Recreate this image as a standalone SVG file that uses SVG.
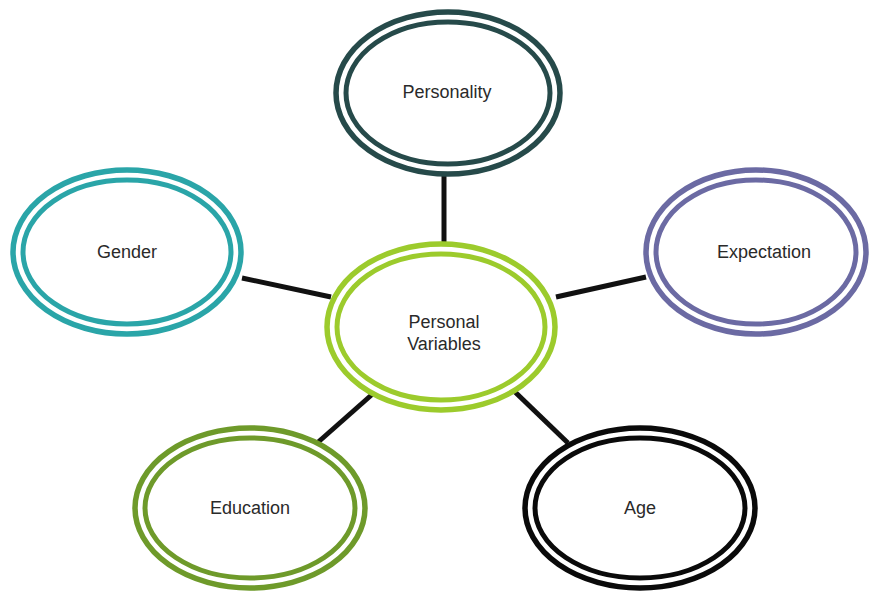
<svg xmlns="http://www.w3.org/2000/svg" width="870" height="592" viewBox="0 0 870 592">
<style>
.o{fill:#fff;stroke-width:5.5}
.i{fill:none;stroke-width:5}
text{font-family:"Liberation Sans",Arial,sans-serif;font-size:18px;fill:#2a2a2a;text-anchor:middle;stroke:none}
.c{stroke:#111;stroke-width:5;fill:none}
</style>
<rect width="870" height="592" fill="#fff"/>
<g id="connectors">
<line class="c" x1="444" y1="176" x2="444" y2="244"/>
<line class="c" x1="242" y1="278" x2="331" y2="297"/>
<line class="c" x1="556" y1="297" x2="646" y2="277"/>
<line class="c" x1="316" y1="444" x2="376" y2="391"/>
<line class="c" x1="568" y1="443" x2="514" y2="391"/>
</g>
<g id="personality" stroke="#264a4a">
<ellipse class="o" cx="448" cy="93" rx="112" ry="81"/>
<ellipse class="i" cx="448" cy="93" rx="102" ry="71"/>
<text x="447" y="98">Personality</text>
</g>
<g id="gender" stroke="#2aa5a8">
<ellipse class="o" cx="127" cy="252" rx="114" ry="82"/>
<ellipse class="i" cx="127" cy="252" rx="104" ry="72"/>
<text x="127" y="258">Gender</text>
</g>
<g id="expectation" stroke="#6b6aa3">
<ellipse class="o" cx="756" cy="252" rx="110" ry="82"/>
<ellipse class="i" cx="756" cy="252" rx="100" ry="72"/>
<text x="764" y="258">Expectation</text>
</g>
<g id="personal-variables" stroke="#9ccb2c">
<ellipse class="o" cx="441" cy="327" rx="114" ry="83"/>
<ellipse class="i" cx="441" cy="327" rx="104" ry="73"/>
<text x="444" y="328">Personal</text>
<text x="444" y="350">Variables</text>
</g>
<g id="education" stroke="#6e9a2a">
<ellipse class="o" cx="250" cy="508" rx="115" ry="80"/>
<ellipse class="i" cx="250" cy="508" rx="105" ry="70"/>
<text x="250" y="514">Education</text>
</g>
<g id="age" stroke="#0a0a0a">
<ellipse class="o" cx="640" cy="508" rx="115" ry="80"/>
<ellipse class="i" cx="640" cy="508" rx="105" ry="70"/>
<text x="640" y="514">Age</text>
</g>
</svg>
